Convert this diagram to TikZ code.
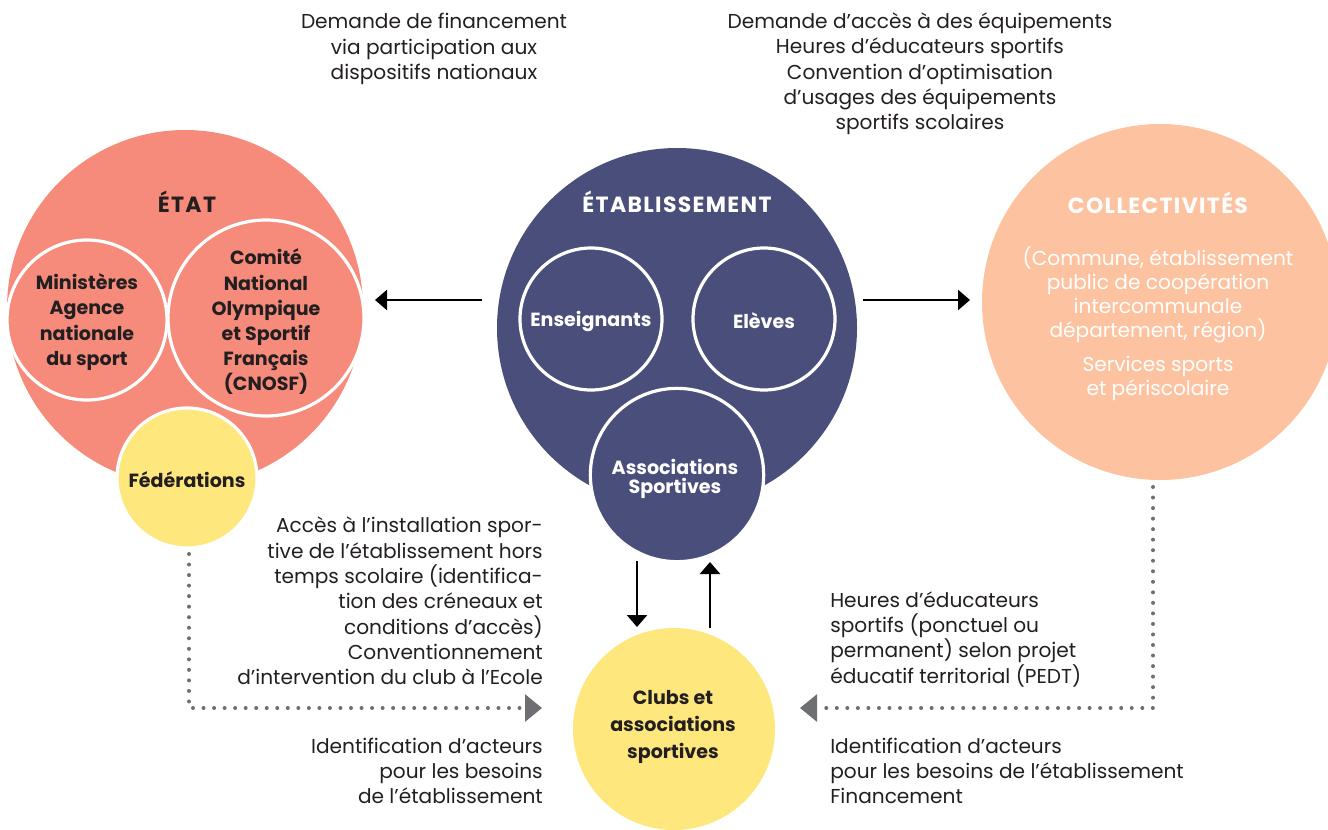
\documentclass[tikz,border=0pt]{standalone}
\usepackage{fontspec}
\setmainfont{Poppins}
\usetikzlibrary{arrows.meta,calc}
\definecolor{etatred}{HTML}{F68B7B}
\definecolor{navy}{HTML}{4A4E7B}
\definecolor{peach}{HTML}{FDC3A0}
\definecolor{yell}{HTML}{FEE77C}
\definecolor{ink}{HTML}{231F20}
\definecolor{dotgray}{HTML}{6E6F73}
\begin{document}
\begin{tikzpicture}[x=0.75pt,y=-0.75pt,
  disc/.style={circle,inner sep=0pt,minimum size=#1},
  ring/.style={draw=white,line width=2.4pt},
  txt/.style={font=\fontsize{15.1}{19}\selectfont,text=ink,inner sep=0pt},
  btxt/.style={font=\fontsize{14.3}{18.9}\selectfont\bfseries,text=ink,inner sep=0pt,align=center},
  wtxt/.style={font=\fontsize{14.3}{18.9}\selectfont\bfseries,text=white,inner sep=0pt,align=center},
  title/.style={font=\fontsize{16.5}{19}\selectfont\bfseries\addfontfeature{LetterSpace=6},inner sep=0pt},
  blackarrow/.style={draw=black,line width=1.9pt,-{Triangle[length=9pt,width=15pt]}},
  dotline/.style={draw=dotgray,line width=3pt,line cap=round,dash pattern=on 0pt off 7.9pt,
     -{Triangle[length=12.75pt,width=20pt,fill=dotgray]}}
]
\useasboundingbox (0,0) rectangle (1328,829);
% ETAT
\node[disc=267pt,fill=etatred] (etat) at (185,308) {};
\node[disc=120pt,fill=etatred,ring] (minis) at (87,320) {};
\node[disc=147pt,fill=etatred,ring] (cnosf) at (266,318) {};
\node[disc=105pt,fill=yell,ring] (fed) at (187,478) {};
\node[title,text=ink] (etatlbl) at (187,202) {ÉTAT};
\node[btxt] (minislbl) at (87,322) {Ministères\\Agence\\nationale\\du sport};
\node[btxt] (cnosflbl) at (266,322) {Comité\\National\\Olympique\\et Sportif\\Français\\(CNOSF)};
\node[btxt] (fedlbl) at (187,480) {Fédérations};
% ETABLISSEMENT
\node[disc=270pt,fill=navy] (etab) at (677,328) {};
\node[disc=106.5pt,fill=navy,ring] (ens) at (591,319) {};
\node[disc=106.5pt,fill=navy,ring] (elev) at (764,319) {};
\node[disc=130pt,fill=navy,ring] (asso) at (677,475) {};
\node[title,text=white] (etablbl) at (677,202) {ÉTABLISSEMENT};
\node[wtxt] (enslbl) at (591,321) {Enseignants};
\node[wtxt] (elevlbl) at (764,321) {Elèves};
\node[wtxt,font=\fontsize{14.3}{14.3}\selectfont\bfseries] (assolbl) at (675,479) {Associations\\Sportives};
% COLLECTIVITES
\node[disc=267pt,fill=peach] (coll) at (1160,302) {};
\node[title,text=white] (colllbl) at (1158,203) {COLLECTIVITÉS};
\node[txt,text=white,align=center,font=\fontsize{15.1}{18}\selectfont] (collsub) at (1158,295)
  {(Commune, établissement\\public de coopération\\intercommunale\\département, région)};
\node[txt,text=white,align=center,font=\fontsize{15.1}{18}\selectfont] (collserv) at (1158,378)
  {Services sports\\et périscolaire};
% CLUBS
\node[disc=151.5pt,fill=yell] (clubs) at (674,729) {};
\node[btxt,font=\fontsize{14.3}{20}\selectfont\bfseries] (clubslbl) at (673,727) {Clubs et\\associations\\sportives};
% texts
\node[txt,align=center] (t1) at (434,49) {Demande de financement\\via participation aux\\dispositifs nationaux};
\node[txt,align=center] (t2) at (920,74) {Demande d’accès à des équipements\\Heures d’éducateurs sportifs\\Convention d’optimisation\\d’usages des équipements\\sportifs scolaires};
\node[txt,align=right,anchor=east] (t3) at (543,601) {Accès à l’installation spor-\\tive de l’établissement hors\\temps scolaire (identifica-\\tion des créneaux et\\conditions d’accès)\\Conventionnement\\d’intervention du club à l’Ecole};
\node[txt,align=right,anchor=east] (t4) at (543,771) {Identification d’acteurs\\pour les besoins\\de l’établissement};
\node[txt,align=left,anchor=west] (t5) at (830,639) {Heures d’éducateurs\\sportifs (ponctuel ou\\permanent) selon projet\\éducatif territorial (PEDT)};
\node[txt,align=left,anchor=west] (t6) at (830,771) {Identification d’acteurs\\pour les besoins de l’établissement\\Financement};
% arrows
\coordinate (la1) at (482,300);
\coordinate (la2) at (375,300);
\coordinate (ra1) at (863,300);
\coordinate (ra2) at (970,300);
\coordinate (da1) at (637,561);
\coordinate (da2) at (637,627);
\coordinate (ua1) at (710,628);
\coordinate (ua2) at (710,562);
\draw[blackarrow] (la1) -- (la2);
\draw[blackarrow] (ra1) -- (ra2);
\draw[blackarrow] (da1) -- (da2);
\draw[blackarrow] (ua1) -- (ua2);
% dotted
\coordinate (ld0) at (189,554);
\coordinate (ld1) at (189,708);
\coordinate (ld2) at (542,708);
\coordinate (rd0) at (1153,487);
\coordinate (rd1) at (1153,708);
\coordinate (rd2) at (800,708);
\draw[dotline] (ld0) -- (ld1) -- (ld2);
\draw[dotline] (rd0) -- (rd1) -- (rd2);
\end{tikzpicture}
\end{document}
